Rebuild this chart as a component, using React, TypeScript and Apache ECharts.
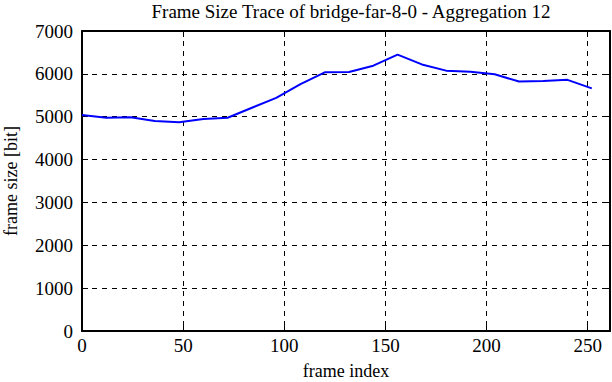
import React, { useEffect, useRef } from "react";
import * as echarts from "echarts";

const frameIndex = [0, 12, 24, 36, 48, 60, 72, 84, 96, 108, 120, 132, 144, 156, 168, 180, 192, 204, 216, 228, 240, 252];
const frameSize = [5040, 4975, 4985, 4900, 4870, 4945, 4975, 5210, 5440, 5760, 6035, 6045, 6190, 6450, 6220, 6075, 6050, 5990, 5820, 5835, 5860, 5660];
const xTicks = [0, 50, 100, 150, 200, 250];

const FONT = "'Liberation Serif', 'DejaVu Serif', serif";

export default function App() {
  const ref = useRef<HTMLDivElement>(null);
  useEffect(() => {
    if (!ref.current) return;
    const chart = echarts.init(ref.current, null, { renderer: "svg" });
    const gridLine = { show: true, lineStyle: { color: "#000", type: [5, 5] as any, width: 1 } };
    const tick = { show: true, inside: true, length: 6, lineStyle: { color: "#000" } };
    chart.setOption({
      animation: false,
      backgroundColor: "#fff",
      title: {
        text: "Frame Size Trace of bridge-far-8-0 - Aggregation 12",
        left: 346,
        textAlign: "center",
        top: -3,
        textStyle: { fontFamily: FONT, fontSize: 19, fontWeight: "normal", color: "#000" },
      },
      grid: { left: 82, right: 2, top: 31, bottom: 51, outerBoundsMode: "none", containLabel: false },
      xAxis: [
        {
          type: "value",
          min: 0,
          max: 261,
          interval: 50,
          name: "frame index",
          nameLocation: "middle",
          nameGap: 31,
          nameTextStyle: { fontFamily: FONT, fontSize: 18, color: "#000" },
          axisLine: { show: true, onZero: false, lineStyle: { color: "#000", width: 2 } },
          axisTick: { ...tick, customValues: xTicks },
          axisLabel: { fontFamily: FONT, fontSize: 19, color: "#000", margin: 5, customValues: xTicks },
          splitLine: gridLine,
        },
        {
          type: "value",
          position: "top",
          min: 0,
          max: 261,
          interval: 50,
          axisLine: { show: true, onZero: false, lineStyle: { color: "#000", width: 2 } },
          axisTick: { ...tick, customValues: xTicks },
          axisLabel: { show: false },
          splitLine: { show: false },
        },
      ],
      yAxis: [
        {
          type: "value",
          min: 0,
          max: 7000,
          interval: 1000,
          name: "frame size [bit]",
          nameLocation: "middle",
          nameGap: 62,
          nameTextStyle: { fontFamily: FONT, fontSize: 18, color: "#000" },
          axisLine: { show: true, onZero: false, lineStyle: { color: "#000", width: 2 } },
          axisTick: tick,
          axisLabel: { fontFamily: FONT, fontSize: 19, color: "#000", margin: 9, formatter: (v: number) => String(v) },
          splitLine: gridLine,
        },
        {
          type: "value",
          position: "right",
          min: 0,
          max: 7000,
          interval: 1000,
          axisLine: { show: true, onZero: false, lineStyle: { color: "#000", width: 2 } },
          axisTick: tick,
          axisLabel: { show: false },
          splitLine: { show: false },
        },
      ],
      series: [
        {
          type: "line",
          data: frameIndex.map((f, i) => [f, frameSize[i]]),
          showSymbol: false,
          symbol: "none",
          lineStyle: { color: "#0000ff", width: 2 },
          itemStyle: { color: "#0000ff" },
        },
      ],
    });
    return () => chart.dispose();
  }, []);
  return <div ref={ref} style={{ width: 612, height: 382, position: "absolute", left: 0, top: 0 }} />;
}
